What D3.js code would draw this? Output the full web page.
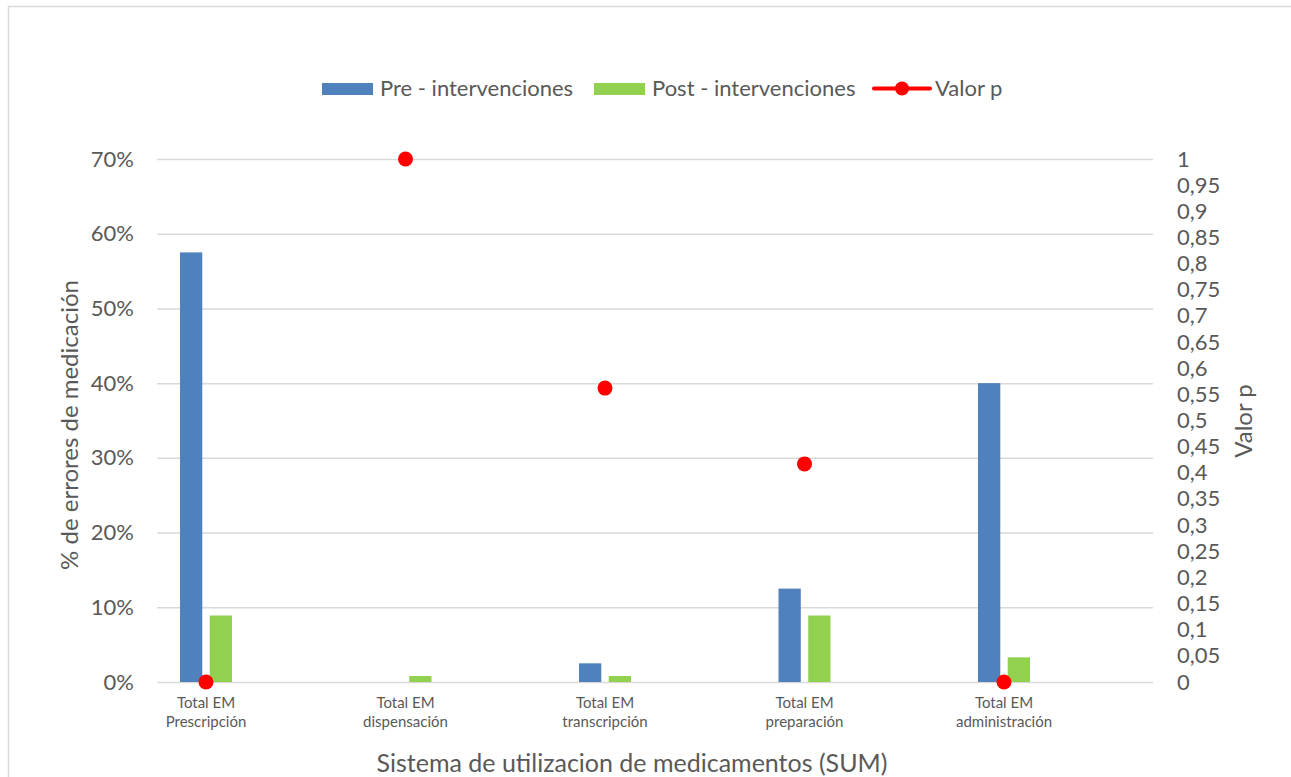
<!DOCTYPE html>
<html>
<head>
<meta charset="utf-8">
<script src="https://cdn.jsdelivr.net/npm/d3@7"></script>
<style>
  html, body { margin: 0; padding: 0; background: #fff; }
  svg { display: block; }
  text { font-family: Lato, "Open Sans", sans-serif; fill: #595959; }
</style>
</head>
<body>
<svg id="chart" width="1291" height="777"></svg>
<script>
// ---- data ----
const categories = [
  ["Total EM", "Prescripción"],
  ["Total EM", "dispensación"],
  ["Total EM", "transcripción"],
  ["Total EM", "preparación"],
  ["Total EM", "administración"]
];
const preValues  = [0.575, 0.0,   0.025, 0.125, 0.40];
const postValues = [0.089, 0.008, 0.008, 0.089, 0.033];
const pValues    = [0.0, 1.0, 0.562, 0.417, 0.0];
const leftTicks  = [0, 0.1, 0.2, 0.3, 0.4, 0.5, 0.6, 0.7];
const rightTicks = [0, 0.05, 0.1, 0.15, 0.2, 0.25, 0.3, 0.35, 0.4, 0.45, 0.5,
                    0.55, 0.6, 0.65, 0.7, 0.75, 0.8, 0.85, 0.9, 0.95, 1];
const seriesNames = ["Pre - intervenciones", "Post - intervenciones", "Valor p"];
const leftTitle = "% de errores de medicación";
const rightTitle = "Valor p";
const xTitle = "Sistema de utilizacion de medicamentos (SUM)";

// ---- layout ----
const plot = { left: 157, right: 1153, top: 159, bottom: 682 };
const colors = { pre: "#4f81bd", post: "#92d050", p: "#ff0000", grid: "#d9d9d9", text: "#595959" };

const svg = d3.select("#chart");

// chart border
svg.append("rect")
  .attr("x", 8.5).attr("y", 6.5)
  .attr("width", 1400).attr("height", 900)
  .attr("fill", "#fff").attr("stroke", "#d9d9d9").attr("stroke-width", 1.5);

const idx = d3.range(categories.length);
const x = d3.scalePoint().domain(idx).range([206, 1004]);
const xSub = d3.scaleBand().domain(["pre", "post"]).range([-26, 26]).paddingInner(0.25);
const yL = d3.scaleLinear().domain([0, 0.7]).range([plot.bottom, plot.top]);
const yR = d3.scaleLinear().domain([0, 1]).range([plot.bottom, plot.top]);

// gridlines
svg.append("g")
  .attr("transform", `translate(${plot.left},0)`)
  .call(d3.axisLeft(yL).tickValues(leftTicks).tickSize(-(plot.right - plot.left)).tickFormat(""))
  .call(g => g.select(".domain").remove())
  .call(g => g.selectAll("line").attr("stroke", colors.grid).attr("stroke-width", 1.5));

// left axis labels
svg.append("g")
  .attr("transform", `translate(${plot.left},0)`)
  .call(d3.axisLeft(yL).tickValues(leftTicks).tickSize(0).tickPadding(23)
        .tickFormat(d => Math.round(d * 100) + "%"))
  .call(g => g.select(".domain").remove())
  .call(g => g.selectAll("text").attr("font-size", 22).attr("fill", colors.text)
        .attr("font-family", "Lato, sans-serif"));

// right axis labels
const fmtR = d => String(Math.round(d * 100) / 100).replace(".", ",");
svg.append("g")
  .attr("transform", `translate(${plot.right},0)`)
  .call(d3.axisRight(yR).tickValues(rightTicks).tickSize(0).tickPadding(24).tickFormat(fmtR))
  .call(g => g.select(".domain").remove())
  .call(g => g.selectAll("text").attr("font-size", 22).attr("fill", colors.text)
        .attr("font-family", "Lato, sans-serif"));

// bars
const barData = [];
idx.forEach(i => {
  barData.push({ i, key: "pre", v: preValues[i] });
  barData.push({ i, key: "post", v: postValues[i] });
});
svg.append("g").selectAll("rect")
  .data(barData.filter(d => d.v > 0))
  .join("rect")
  .attr("x", d => x(d.i) + xSub(d.key))
  .attr("width", xSub.bandwidth())
  .attr("y", d => yL(d.v))
  .attr("height", d => yL(0) - yL(d.v))
  .attr("fill", d => colors[d.key]);

// p-value points
svg.append("g").selectAll("circle")
  .data(idx)
  .join("circle")
  .attr("cx", i => x(i))
  .attr("cy", i => yR(pValues[i]))
  .attr("r", 7.5)
  .attr("fill", colors.p);

// category labels
const catG = svg.append("g");
idx.forEach(i => {
  const t = catG.append("text")
    .attr("x", x(i)).attr("text-anchor", "middle")
    .attr("font-size", 15).attr("fill", colors.text);
  t.append("tspan").attr("x", x(i)).attr("y", 708).text(categories[i][0]);
  t.append("tspan").attr("x", x(i)).attr("y", 727).text(categories[i][1]);
});

// axis titles
svg.append("text")
  .attr("transform", "translate(78,425) rotate(-90)")
  .attr("text-anchor", "middle").attr("font-size", 24)
  .text(leftTitle);
svg.append("text")
  .attr("transform", "translate(1252,421) rotate(-90)")
  .attr("text-anchor", "middle").attr("font-size", 24)
  .text(rightTitle);
svg.append("text")
  .attr("x", 632).attr("y", 772)
  .attr("text-anchor", "middle").attr("font-size", 25)
  .text(xTitle);

// legend
const lg = svg.append("g");
lg.append("rect").attr("x", 322).attr("y", 83).attr("width", 51).attr("height", 12).attr("fill", colors.pre);
lg.append("text").attr("x", 380).attr("y", 96).attr("font-size", 22).text(seriesNames[0]);
lg.append("rect").attr("x", 594).attr("y", 83).attr("width", 51).attr("height", 12).attr("fill", colors.post);
lg.append("text").attr("x", 652).attr("y", 96).attr("font-size", 22).text(seriesNames[1]);
lg.append("line").attr("x1", 874).attr("x2", 930).attr("y1", 88.5).attr("y2", 88.5)
  .attr("stroke", colors.p).attr("stroke-width", 4).attr("stroke-linecap", "round");
lg.append("circle").attr("cx", 902).attr("cy", 88.5).attr("r", 7).attr("fill", colors.p);
lg.append("text").attr("x", 935).attr("y", 96).attr("font-size", 22).text(seriesNames[2]);
</script>
</body>
</html>
